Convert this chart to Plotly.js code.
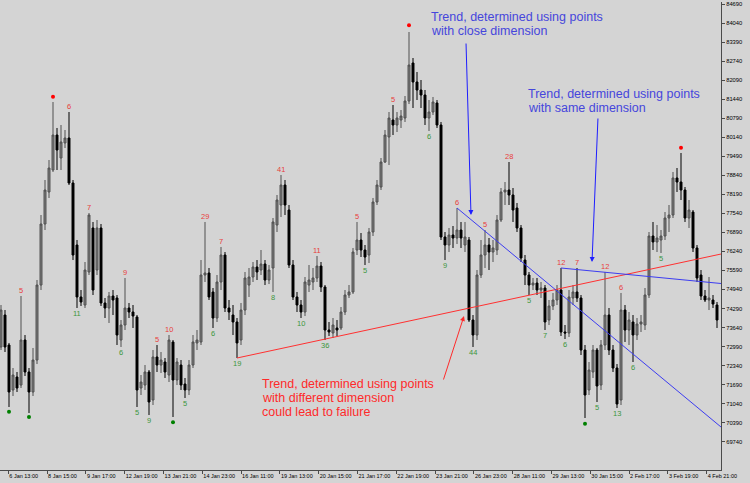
<!DOCTYPE html>
<html>
<head>
<meta charset="utf-8">
<script src="https://cdn.plot.ly/plotly-3.0.1.min.js"></script>
<style>html,body{margin:0;padding:0;background:#d4d4d4;}#chart{width:750px;height:483px;}</style>
</head>
<body>
<div id="chart"></div>
<script>
// ---- DATA (H1 bars) ----
const opens = [72974,74066,73042,71505,71949,71675,73213,72120,71437,72529,75091,77175,78269,79020,80215,79430,79943,80113,78576,76458,
74682,74408,75536,77039,75604,77039,74477,74306,74716,74648,73213,73725,74306,74169,73998,71573,71675,72120,71163,72632,
72358,72461,72017,73145,71846,72358,71709,71505,72358,73111,73145,75433,75502,74853,73964,75194,76116,74306,74066,73828,
73213,74237,75091,75365,75706,75604,75808,75262,75672,77141,77824,78507,77653,75774,74682,74408,74169,75091,75194,75331,
75740,75023,73554,73452,73623,73623,74169,74750,74853,76287,76629,76287,76116,76902,77927,78439,79293,80147,80728,80557,
80728,80796,81377,82675,82026,81753,81582,80796,81001,81309,80557,76731,76458,76799,76697,76970,76458,76629,73896,73383,
75433,76116,76458,76219,76287,77312,78269,78337,78166,77722,77039,75945,75433,75091,75160,74921,74989,73896,74374,74579,
74921,73486,73452,74648,74853,74648,72871,71505,72120,72871,71675,73042,74066,72871,72256,71163,74237,73554,73828,73383,
73759,73725,74750,76765,76561,76629,76765,77380,77482,78747,78610,78337,77380,77585,76356,75433,74716,74579,74579,74408];
const highs = [74408,74237,73111,72256,72120,74716,73383,72256,72940,75262,77482,78678,79361,81343,80455,80557,80386,81001,78678,76629,
74921,75877,77551,77244,77312,77175,74648,74853,74921,74750,73896,75331,74477,74408,74066,72017,72358,72188,72871,73042,
72803,72598,73383,73213,72598,72529,71915,72529,73383,73554,75945,77244,75672,74989,75433,76390,76219,74579,74408,73964,
74477,75536,75672,75877,75945,76287,75945,75774,77380,78166,78849,78678,77824,75945,74853,74579,75365,75774,75672,76082,
75877,75091,73828,73964,73896,74340,74921,75091,76356,77244,76868,76458,77039,78064,78678,79430,80386,81001,81240,81001,
81069,81548,83734,82846,82368,82094,81753,81411,81514,81411,80660,76902,77039,77107,77722,77244,77244,76731,74066,75604,
76629,76970,76697,76629,77482,78405,78610,79293,78405,77893,77141,76116,75536,75331,75331,75194,75091,74579,74819,75091,
75672,73725,74921,75091,75672,74750,73042,72461,73042,72940,73213,75536,74306,73042,72392,74819,74408,74169,74066,73964,
74066,74989,76902,77244,77141,76970,77585,77824,78952,79088,79601,78439,77995,77653,76458,75604,74921,75365,74750,74511];
const lows = [72871,72803,70924,71300,71437,71573,71983,70719,71300,72392,74921,76970,78064,78952,79020,79020,79772,78507,75945,74306,
74374,74306,75433,74750,75433,74374,73964,73794,74066,73042,72974,73554,73964,73623,70924,71334,71505,70650,70992,72120,
72086,71915,71778,70582,71675,71505,71232,71334,72256,72871,73042,75194,74579,73623,73828,74921,74169,73896,73383,72598,
73042,74066,74682,75194,75262,75433,75091,75125,74853,76902,77414,77482,75672,74579,74169,73964,74032,74853,74921,75194,
74853,73213,73349,73281,73349,73554,74066,74648,74784,76116,76048,75774,75843,76765,77824,78337,79259,79190,80215,80318,
80455,80660,81274,81138,81411,81138,80557,80352,80898,80455,76629,75945,76219,76356,76492,76356,76219,73828,72974,73213,
75331,75672,75604,75877,76116,77244,77824,77824,77244,76902,75877,75091,74750,74921,74750,74648,73554,73725,74237,74408,
73349,73247,73315,74408,74511,72700,70548,71334,71915,71095,71505,72871,72700,72120,70890,70992,73145,73042,72461,73213,
73486,73554,74648,76287,76219,76185,76629,76902,77380,78269,77995,77244,77039,76219,75194,74579,74511,74237,74306,73623];
const closes = [74237,72974,71437,72017,71573,73213,72120,71437,72529,75091,77175,78337,79088,80215,79703,79977,80113,78576,76116,74682,
74511,75604,77482,74921,77039,74477,74306,74716,74579,73383,73725,74306,74169,74032,71505,71778,72120,71095,72632,72358,
72529,72120,73213,71846,72461,71675,71505,72358,73145,73213,75433,75502,74682,73964,75194,76116,74306,74169,73828,73111,
74237,75331,75365,75706,75536,75808,75262,75604,77244,77995,78507,77824,75774,74682,74408,74169,75194,75262,75331,75740,
75023,73554,73486,73725,73554,74169,74750,74853,76219,76629,76287,76048,76902,77927,78507,79293,80215,80796,80557,80796,
80864,81377,82606,82026,81753,81582,80796,81001,81343,80557,76731,76458,76799,76697,76970,76697,76731,73896,73383,75433,
76116,76458,76219,76356,77312,78269,78337,78166,77653,77039,76014,75433,75091,75160,74921,74989,73828,74374,74579,74921,
73486,73452,74682,74853,74648,72871,71334,72188,72871,71641,73042,74066,72871,72256,71026,74237,73554,73896,73383,73759,
73828,74750,76765,76561,76697,76765,77380,77482,78747,78610,78337,77380,77653,76356,75331,74716,74579,74648,74442,73896];

// fractal labels: bar index + text (red above highs, green below lows)
const hiLabelIdx  = [5,17,22,31,39,42,51,55,70,79,89,98,114,121,127,140,144,151,155];
const hiLabelText = ['5','6','7','9','5','10','29','7','41','11','5','5','6','5','28','12','7','12','6'];
const loLabelIdx  = [19,30,34,37,46,53,59,68,75,81,91,107,111,118,132,136,141,149,154,158,165];
const loLabelText = ['11','6','5','9','5','6','19','8','10','36','5','6','9','44','5','7','6','5','13','6','5'];

// extreme dots
const redDotX = [13,102,170];
const redDotY = [81524,83963,79782];
const greenDotX = [2,7,43,146];
const greenDotY = [70763,70582,70401,70353];

// trend lines (bar index, price)
const trendRedX = [59,180],  trendRedY = [72598,76150];
const trendBlue1X = [114,180], trendBlue1Y = [77722,70241];
const trendBlue2X = [140,180], trendBlue2Y = [75672,75143];

// axis ticks
const yTicks = [69740,70390,71040,71690,72340,72990,73640,74290,74940,75590,76240,76890,77540,78190,78840,79490,80140,80790,81440,82090,82740,83390,84040,84690];
const xTickVals = [1.83,11.53,21.23,30.93,40.63,50.33,60.03,69.73,79.43,89.13,98.83,108.53,118.23,127.93,137.63,147.33,157.03,166.73,176.43];
const xTickText = ['6 Jan 13:00','8 Jan 15:00','9 Jan 17:00','12 Jan 19:00','13 Jan 21:00','14 Jan 23:00','16 Jan 11:00','19 Jan 13:00','20 Jan 15:00','21 Jan 17:00','22 Jan 19:00','23 Jan 21:00','26 Jan 23:00','28 Jan 11:00','29 Jan 13:00','30 Jan 15:00','2 Feb 17:00','3 Feb 19:00','4 Feb 21:00'];

// text notes
const noteBlue1 = ['Trend, determined using points','with close dimension'];
const noteBlue2 = ['Trend, determined using points','with same dimension'];
const noteRed = ['Trend, determined using points','with different dimension','could lead to failure'];

// ---- BUILD ----
const idx = opens.map((_, i) => i);
const FONT = 'Liberation Sans, Arial, sans-serif';

const traces = [
  {type:'candlestick', x: idx, open: opens, high: highs, low: lows, close: closes,
   increasing:{line:{color:'#505050', width:1}, fillcolor:'#7c7c7c'},
   decreasing:{line:{color:'#000000', width:1}, fillcolor:'#000000'},
   whiskerwidth:0, hoverinfo:'skip', showlegend:false},
  {type:'scatter', mode:'lines', x: trendRedX, y: trendRedY, line:{color:'#ff3030', width:1}, showlegend:false, hoverinfo:'skip'},
  {type:'scatter', mode:'lines', x: trendBlue1X, y: trendBlue1Y, line:{color:'#3c3cf0', width:1}, showlegend:false, hoverinfo:'skip'},
  {type:'scatter', mode:'lines', x: trendBlue2X, y: trendBlue2Y, line:{color:'#3c3cf0', width:1}, showlegend:false, hoverinfo:'skip'},
  {type:'scatter', mode:'markers', x: redDotX, y: redDotY, marker:{color:'#ff0000', size:4}, showlegend:false, hoverinfo:'skip'},
  {type:'scatter', mode:'markers', x: greenDotX, y: greenDotY, marker:{color:'#008000', size:4}, showlegend:false, hoverinfo:'skip'}
];

const ann = [];
hiLabelIdx.forEach((b, k) => ann.push({x:b, y:highs[b], text:hiLabelText[k], showarrow:false, yanchor:'bottom', xanchor:'center',
  font:{family:FONT, size:7.5, color:'#e8403c'}, borderpad:0, yshift:0}));
loLabelIdx.forEach((b, k) => ann.push({x:b, y:lows[b], text:loLabelText[k], showarrow:false, yanchor:'top', xanchor:'center',
  font:{family:FONT, size:7.5, color:'#3c963c'}, borderpad:0, yshift:0}));

function noteLines(lines, x, y0, color) {
  lines.forEach((t, k) => ann.push({x:x, y:y0, yshift:-14.2*k, text:t, showarrow:false, xanchor:'left', yanchor:'middle',
    font:{family:FONT, size:12.5, color:color}, borderpad:0}));
}
noteLines(noteBlue1, 107.3, 84256, '#4646dc');
noteLines(noteBlue2, 131.5, 81616, '#4646dc');
noteLines(noteRed, 65.0, 71710, '#ff2a2a');

// arrows
ann.push({x:117.5, y:77482, ax:-5, ay:-173, text:'', showarrow:true, arrowhead:2, arrowsize:1, arrowwidth:1, arrowcolor:'#1e1eff'});
ann.push({x:147.75, y:75877, ax:6, ay:-145, text:'', showarrow:true, arrowhead:2, arrowsize:1, arrowwidth:1, arrowcolor:'#1e1eff'});
ann.push({x:115.75, y:74032, ax:-21, ay:65, text:'', showarrow:true, arrowhead:2, arrowsize:1, arrowwidth:1, arrowcolor:'#ff2a2a'});

const layout = {
  width:750, height:483,
  margin:{l:0, r:29, t:2, b:13, pad:0},
  paper_bgcolor:'#d4d4d4', plot_bgcolor:'#d4d4d4',
  showlegend:false,
  font:{family:FONT, size:6, color:'#000'},
  xaxis:{range:[-0.25,180], tickmode:'array', tickvals:xTickVals, ticktext:xTickText, tickangle:0,
    showgrid:false, zeroline:false, showline:true, linecolor:'#4a4a4a', linewidth:1,
    ticks:'outside', ticklen:3, tickcolor:'#4a4a4a', tickfont:{family:FONT, size:5.5, color:'#000'},
    ticklabelposition:'outside right', rangeslider:{visible:false}, fixedrange:true, automargin:false},
  yaxis:{side:'right', range:[68772,84759], tickmode:'array', tickvals:yTicks, ticktext:yTicks.map(String),
    showgrid:false, zeroline:false, showline:true, linecolor:'#4a4a4a', linewidth:1,
    ticks:'outside', ticklen:3, tickcolor:'#4a4a4a', tickfont:{family:FONT, size:5.8, color:'#000'}, fixedrange:true, automargin:false},
  annotations: ann
};

Plotly.newPlot('chart', traces, layout, {staticPlot:true, displayModeBar:false});
</script>
</body>
</html>
